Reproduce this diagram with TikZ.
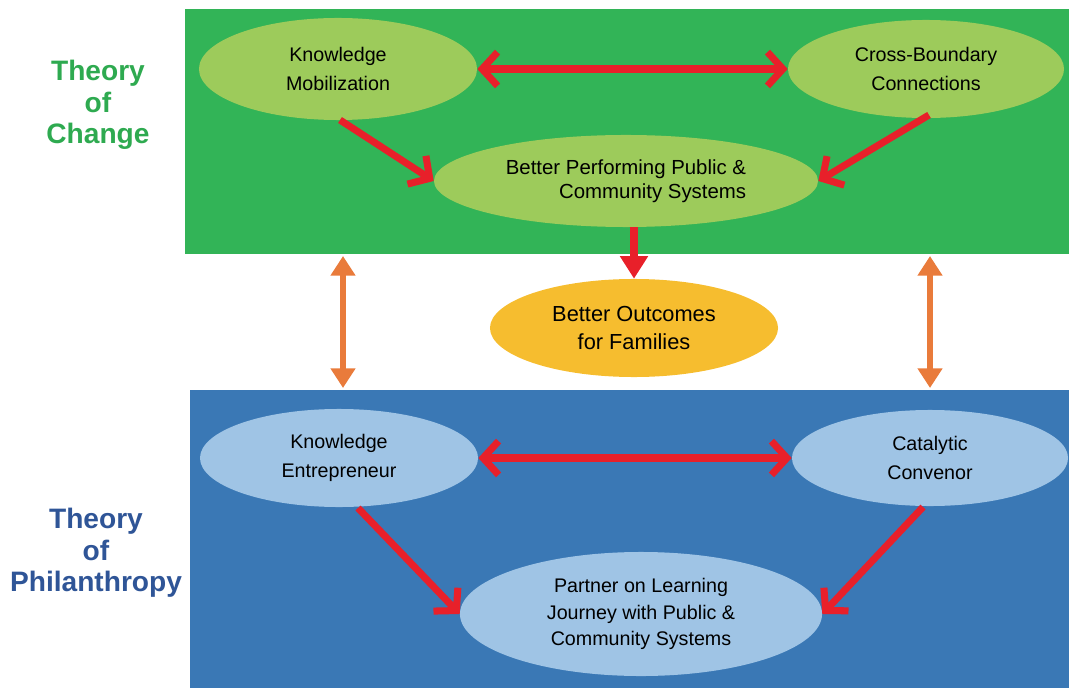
\documentclass[tikz,border=0pt]{standalone}
\usepackage{fontspec}
\setmainfont{Liberation Sans}
\usetikzlibrary{arrows.meta,shapes.geometric}
\definecolor{tocgreen}{HTML}{32B457}
\definecolor{tocleaf}{HTML}{9DCB5B}
\definecolor{topblue}{HTML}{3A78B5}
\definecolor{topsky}{HTML}{9FC4E5}
\definecolor{famgold}{HTML}{F6BD2F}
\definecolor{linkred}{HTML}{E8202A}
\definecolor{linkorange}{HTML}{E97B3B}
\definecolor{titlegreen}{HTML}{2EAA50}
\definecolor{titleblue}{HTML}{2F5597}
\tikzset{
  oval/.style={ellipse, inner sep=0pt, align=center,
    font=\fontsize{14}{20.5}\selectfont},
  redlink/.style={draw=linkred, line width=5pt,
    -{Straight Barb[length=11pt,width=24pt,line width=5pt]}},
  redboth/.style={draw=linkred, line width=5pt,
    {Straight Barb[length=11pt,width=24pt,line width=5pt]}-{Straight Barb[length=11pt,width=24pt,line width=5pt]}},
  orangeboth/.style={draw=linkorange, line width=4.5pt,
    {Triangle[length=14pt,width=17pt]}-{Triangle[length=14pt,width=17pt]}},
  sidetitle/.style={align=center, font=\fontsize{20}{22.5}\selectfont\bfseries}
}
\begin{document}
\begin{tikzpicture}[x=0.025cm,y=-0.025cm]
  \useasboundingbox (0,0) rectangle (1069,688);
  % bands
  \fill[tocgreen] (185,9) rectangle (1069,254);
  \fill[topblue] (190,390) rectangle (1069,688);
  % side titles
  \node[sidetitle, text=titlegreen] (toc) at (98,105) {Theory\\of\\Change};
  \node[sidetitle, text=titleblue] (top) at (96,553) {Theory\\of\\Philanthropy};
  % theory of change
  \node[oval, fill=tocleaf, minimum width=6.95cm, minimum height=2.55cm] (km) at (338,69) {Knowledge\\Mobilization};
  \node[oval, fill=tocleaf, minimum width=6.9cm, minimum height=2.45cm] (cbc) at (926,69) {Cross-Boundary\\Connections};
  \node[oval, fill=tocleaf, minimum width=9.6cm, minimum height=2.3cm, align=right,
    font=\fontsize{14.5}{17}\selectfont] (bps) at (626,181) {Better Performing Public \&\\Community Systems\ };
  % outcome
  \node[oval, fill=famgold, minimum width=7.2cm, minimum height=2.45cm,
    font=\fontsize{15.5}{20.5}\selectfont] (bof) at (634,328) {Better Outcomes\\for Families};
  % theory of philanthropy
  \node[oval, fill=topsky, minimum width=6.95cm, minimum height=2.45cm] (ke) at (339,458) {Knowledge\\Entrepreneur};
  \node[oval, fill=topsky, minimum width=6.9cm, minimum height=2.4cm] (cc) at (930,458) {Catalytic\\Convenor};
  \node[oval, fill=topsky, minimum width=9.05cm, minimum height=3.1cm,
    font=\fontsize{14}{19}\selectfont] (plj) at (641,614) {Partner on Learning\\Journey with Public \&\\Community Systems};
  % links
  \coordinate (gl) at (343,256);
  \coordinate (bl) at (343,388);
  \coordinate (gr) at (930,256);
  \coordinate (br) at (930,388);
  \coordinate (kmfoot) at (340,120);
  \coordinate (cbcfoot) at (929,115);
  \coordinate (kefoot) at (358,508);
  \coordinate (ccfoot) at (923,507);
  \draw[redboth] (km.east) -- (cbc.west);
  \draw[redlink] (kmfoot) -- (bps.west);
  \draw[redlink] (cbcfoot) -- (bps.east);
  \draw[draw=linkred, line width=6pt, -{Triangle[length=16pt,width=19pt]}] (bof.north |- bps.south) -- (bof.north);
  \draw[orangeboth] (gl) -- (bl);
  \draw[orangeboth] (gr) -- (br);
  \draw[redboth] (ke.east) -- (cc.west);
  \draw[redlink] (kefoot) -- (plj.west);
  \draw[redlink] (ccfoot) -- (plj.east);
\end{tikzpicture}
\end{document}
